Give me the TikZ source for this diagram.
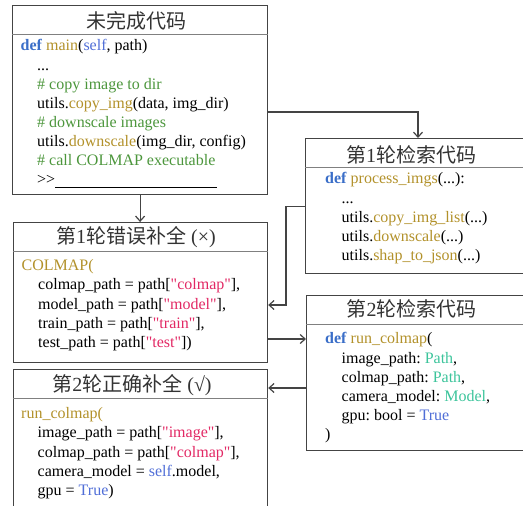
\documentclass[tikz,border=0pt]{standalone}
\usepackage{fontspec}
\setmainfont{Liberation Serif}
\newfontfamily\cjk{Noto Sans CJK SC}
\usetikzlibrary{arrows.meta}
\definecolor{kwblue}{RGB}{58,110,200}
\definecolor{fngold}{RGB}{178,145,42}
\definecolor{cmgreen}{RGB}{76,150,60}
\definecolor{strred}{RGB}{226,40,100}
\definecolor{tyteal}{RGB}{60,196,155}
\definecolor{valblue}{RGB}{80,110,215}
\definecolor{edgegray}{RGB}{68,68,68}
\definecolor{titlegray}{RGB}{51,51,51}
\newcommand\codekw[1]{\textcolor{kwblue}{\textbf{#1}}}
\newcommand\codefn[1]{\textcolor{fngold}{#1}}
\newcommand\codecm[1]{\textcolor{cmgreen}{#1}}
\newcommand\codestr[1]{\textcolor{strred}{\textquotedbl#1\textquotedbl}}
\newcommand\codety[1]{\textcolor{tyteal}{#1}}
\newcommand\codeval[1]{\textcolor{valblue}{#1}}
\newcommand\ind{\hspace*{16.5pt}}

\begin{document}
\begin{tikzpicture}[x=1pt,y=-1pt,>={Straight Barb[length=5pt,width=9pt]}]
  \tikzstyle{box}=[draw=edgegray,line width=1.2pt,anchor=north west,inner sep=0pt]
  \tikzstyle{sep}=[draw=gray,line width=0.8pt]
  \tikzstyle{title}=[text=titlegray,inner sep=0pt,font=\fontsize{20}{24}\selectfont]
  \tikzstyle{code}=[anchor=north west,align=left,inner sep=0pt,
                    font=\fontsize{16}{19.1}\selectfont\frenchspacing]
  \tikzstyle{link}=[->,draw=edgegray,line width=1.2pt]

  \clip (0,0) rectangle (523,506);

  % boxes
  \node[box,minimum width=255pt,minimum height=189pt] (b1) at (12,5) {};
  \node[box,minimum width=220pt,minimum height=135pt] (b2) at (305,138) {};
  \node[box,minimum width=254pt,minimum height=140pt] (b3) at (13,222) {};
  \node[box,minimum width=220pt,minimum height=155pt] (b4) at (306,295) {};
  \node[box,minimum width=254pt,minimum height=150pt] (b5) at (13,369) {};
  \foreach \b in {b1,b2,b3,b4,b5}
    \draw[sep] ([yshift=-29pt]\b.north west) -- ([yshift=-29pt]\b.north east);

  % titles
  \node[title] (t1) at (136,21)    {\cjk 未完成代码};
  \node[title] (t2) at (411,155)   {{\cjk 第}1{\cjk 轮检索代码}};
  \node[title] (t3) at (136,237)   {{\cjk 第}1{\cjk 轮错误补全} (×)};
  \node[title] (t4) at (411.5,309) {{\cjk 第}2{\cjk 轮检索代码}};
  \node[title] (t5) at (132,385)   {{\cjk 第}2{\cjk 轮正确补全} (√)};

  % code
  \node[code] (k1) at (20.5,39.5) {%
    \codekw{def} \codefn{main}(\codeval{self}, path)\\
    \ind ...\\
    \ind \codecm{\# copy image to dir}\\
    \ind utils.\codefn{copy\_img}(data, img\_dir)\\
    \ind \codecm{\# downscale images}\\
    \ind utils.\codefn{downscale}(img\_dir, config)\\
    \ind \codecm{\# call COLMAP executable}\\
    \ind >{}>\rule[-2.5pt]{162pt}{0.6pt}};
  \node[code] (k2) at (325,172.5) {%
    \codekw{def} \codefn{process\_imgs}(...):\\
    \ind ...\\
    \ind utils.\codefn{copy\_img\_list}(...)\\
    \ind utils.\codefn{downscale}(...)\\
    \ind utils.\codefn{shap\_to\_json}(...)};
  \node[code] (k3) at (21.5,259.5) {%
    \codefn{COLMAP(}\\
    \ind colmap\_path = path[\codestr{colmap}],\\
    \ind model\_path = path[\codestr{model}],\\
    \ind train\_path = path[\codestr{train}],\\
    \ind test\_path = path[\codestr{test}])};
  \node[code] (k4) at (325,332.5) {%
    \codekw{def} \codefn{run\_colmap}(\\
    \ind image\_path: \codety{Path},\\
    \ind colmap\_path: \codety{Path},\\
    \ind camera\_model: \codety{Model},\\
    \ind gpu: bool = \codeval{True}\\
    )};
  \node[code] (k5) at (21,407.5) {%
    \codefn{run\_colmap(}\\
    \ind image\_path = path[\codestr{image}],\\
    \ind colmap\_path = path[\codestr{colmap}],\\
    \ind camera\_model = \codeval{self}.model,\\
    \ind gpu = \codeval{True})};

  % connectors
  \coordinate (c1) at (418,112);
  \coordinate (c2) at (286,305);
  \coordinate (c3) at (0,339);
  \coordinate (c4) at (0,388);
  \draw[link] (b1.east |- c1) -| (b2.north -| c1);
  \draw[link] (b1.south) -- (b1.south |- b3.north);
  \draw[link] (b2.west) -| (c2) -- (b3.east |- c2);
  \draw[link] (b3.east |- c3) -- (b4.west |- c3);
  \draw[link] (b4.west |- c4) -- (b5.east |- c4);
\end{tikzpicture}
\end{document}
